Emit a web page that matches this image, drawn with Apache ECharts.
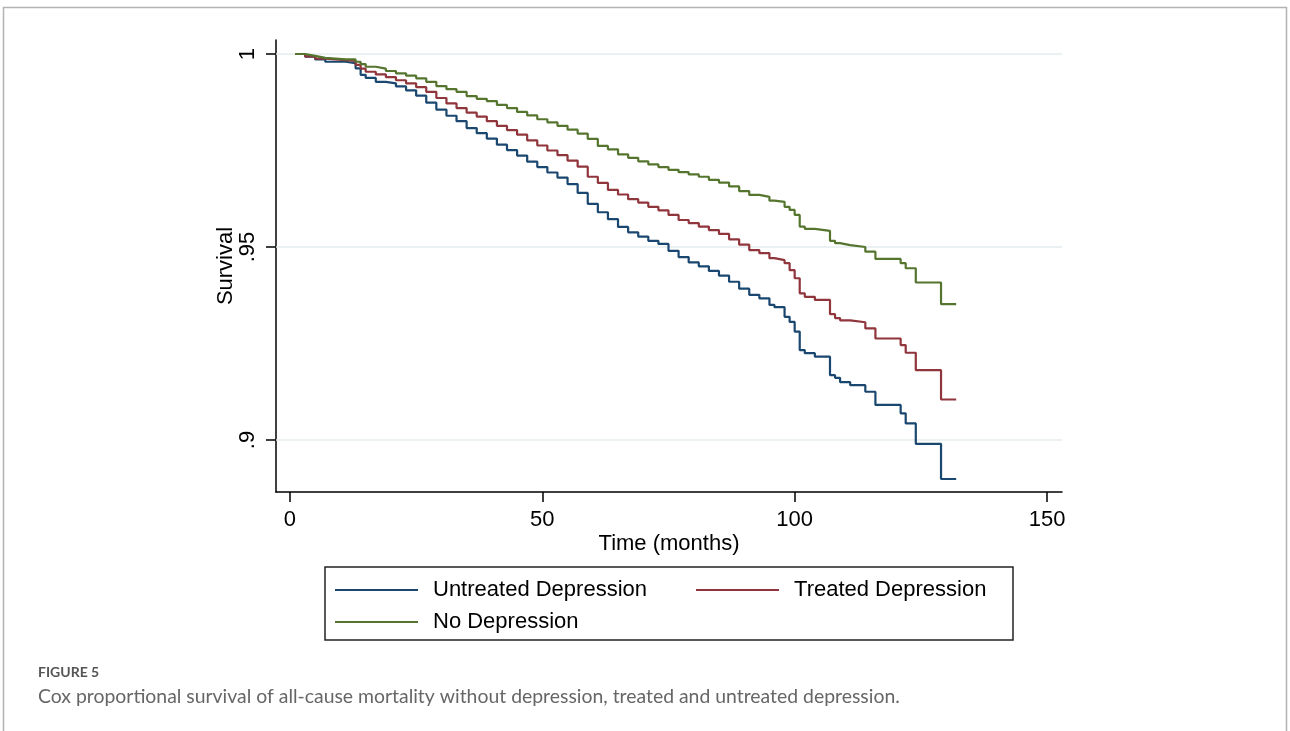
<!DOCTYPE html>
<html>
<head lang="en">
    <meta charset="UTF-8">
    <title>Figure 5</title>
    <style type="text/css">
        body { margin: 0; background: #fff; }
        #mychart { width: 1290px; height: 731px; }
    </style>
</head>
<body>
<div id='mychart'></div>
<script src='https://cdn.jsdelivr.net/npm/echarts/dist/echarts.min.js'></script>
<script>
    // time points (months) at which the curves step
    var months = [1, 3, 5, 7, 11, 13, 14, 15, 17, 19, 21, 23, 25, 27, 29, 31, 33, 35, 37, 39,
        41, 43, 45, 47, 49, 51, 53, 55, 57, 59, 61, 63, 65, 67, 69, 71, 73, 75, 77, 79,
        81, 83, 85, 87, 89, 91, 93, 95, 96, 98, 99, 100, 101, 102, 104, 107, 108, 109, 111,
        114, 116, 121, 122, 124, 129, 132];

    var untreated = [1.0000, 0.9993, 0.9986, 0.9980, 0.9976, 0.9963, 0.9946, 0.9938, 0.9928, 0.9924,
        0.9916, 0.9906, 0.9892, 0.9874, 0.9856, 0.9840, 0.9826, 0.9808, 0.9795, 0.9781,
        0.9765, 0.9751, 0.9737, 0.9721, 0.9707, 0.9693, 0.9680, 0.9663, 0.9640, 0.9612,
        0.9590, 0.9572, 0.9552, 0.9538, 0.9527, 0.9516, 0.9508, 0.9490, 0.9474, 0.9460,
        0.9450, 0.9438, 0.9426, 0.9410, 0.9392, 0.9376, 0.9367, 0.9350, 0.9344, 0.9319,
        0.9306, 0.9281, 0.9233, 0.9225, 0.9216, 0.9168, 0.9161, 0.9150, 0.9142,
        0.9125, 0.9091, 0.9069, 0.9043, 0.8990, 0.8899, 0.8899];

    var treated = [1.0000, 0.9994, 0.9988, 0.9984, 0.9982, 0.9972, 0.9962, 0.9954, 0.9947, 0.9940,
        0.9932, 0.9924, 0.9914, 0.9902, 0.9886, 0.9872, 0.9860, 0.9848, 0.9838, 0.9826,
        0.9814, 0.9803, 0.9791, 0.9776, 0.9763, 0.9750, 0.9738, 0.9724, 0.9708, 0.9682,
        0.9666, 0.9648, 0.9636, 0.9624, 0.9615, 0.9604, 0.9595, 0.9583, 0.9570, 0.9562,
        0.9553, 0.9544, 0.9534, 0.9520, 0.9506, 0.9492, 0.9484, 0.9471, 0.9466, 0.9458,
        0.9440, 0.9419, 0.9380, 0.9371, 0.9363, 0.9326, 0.9316, 0.9310, 0.9305,
        0.9289, 0.9263, 0.9246, 0.9226, 0.9181, 0.9105, 0.9105];

    var noDepression = [1.0000, 0.9995, 0.9990, 0.9986, 0.9986, 0.9980, 0.9974, 0.9967, 0.9962, 0.9956,
        0.9950, 0.9944, 0.9937, 0.9928, 0.9917, 0.9909, 0.9902, 0.9891, 0.9884, 0.9878,
        0.9868, 0.9860, 0.9850, 0.9841, 0.9831, 0.9823, 0.9814, 0.9804, 0.9794, 0.9780,
        0.9762, 0.9753, 0.9740, 0.9731, 0.9722, 0.9714, 0.9707, 0.9700, 0.9694, 0.9688,
        0.9682, 0.9674, 0.9667, 0.9657, 0.9645, 0.9635, 0.9630, 0.9620, 0.9617, 0.9604,
        0.9596, 0.9583, 0.9553, 0.9547, 0.9542, 0.9516, 0.9510, 0.9505, 0.9500,
        0.9488, 0.9469, 0.9458, 0.9445, 0.9408, 0.9352, 0.9352];

    var seriesNames = ['Untreated Depression', 'Treated Depression', 'No Depression'];
    var seriesColors = ['#1a476f', '#90353b', '#55752f'];
    var xTicks = [0, 50, 100, 150];
    var yTicks = [0.9, 0.95, 1];
    var yTickLabels = {'0.9': '.9', '0.95': '.95', '1': '1'};

    function pairs(vals) {
        var res = [];
        for (var i = 0; i < months.length; i++) {
            res.push([months[i], vals[i]]);
        }
        return res;
    }

    var myChart = echarts.init(document.getElementById('mychart'));
    var font = 'Liberation Sans, Arial, Helvetica, sans-serif';

    var allVals = [untreated, treated, noDepression];
    var series = [];
    for (var s = 0; s < allVals.length; s++) {
        series.push({
            name: seriesNames[s],
            type: 'line',
            step: 'end',
            symbol: 'none',
            animation: false,
            data: pairs(allVals[s]),
            lineStyle: {color: seriesColors[s], width: 2.2},
            itemStyle: {color: seriesColors[s]},
            z: 3 + s
        });
    }
    // light grid lines at the y ticks
    series[0].markLine = {
        silent: true,
        symbol: 'none',
        label: {show: false},
        lineStyle: {color: '#e4ecef', width: 1.5, type: 'solid'},
        z: 1,
        data: yTicks.map(function (v) { return {yAxis: v}; })
    };

    var legendText = {fontFamily: font, fontSize: 22, color: '#000', padding: [0, 0, 0, 10]};

    var option = {
        backgroundColor: '#fff',
        animation: false,
        grid: {left: 276, right: 228, top: 40, bottom: 239, containLabel: false},
        xAxis: {
            type: 'value',
            min: -2.77,
            max: 152.97,
            name: 'Time (months)',
            nameLocation: 'middle',
            nameGap: 41,
            nameMoveOverlap: false,
            nameTextStyle: {fontFamily: font, fontSize: 22, color: '#000', verticalAlign: 'top'},
            axisLine: {onZero: false, lineStyle: {color: '#000', width: 1.5}},
            axisTick: {show: true, length: 10, customValues: xTicks, lineStyle: {color: '#000', width: 1.5}},
            axisLabel: {customValues: xTicks, margin: 17, fontFamily: font, fontSize: 22, color: '#000'},
            splitLine: {show: false}
        },
        yAxis: {
            type: 'value',
            min: 0.88653,
            max: 1.00363,
            name: 'Survival',
            nameLocation: 'middle',
            nameGap: 39,
            nameMoveOverlap: false,
            nameRotate: 90,
            nameTextStyle: {fontFamily: font, fontSize: 22, color: '#000'},
            axisLine: {show: true, onZero: false, lineStyle: {color: '#000', width: 1.5}},
            axisTick: {show: true, length: 10, customValues: yTicks, lineStyle: {color: '#000', width: 1.5}},
            axisLabel: {
                customValues: yTicks,
                rotate: 90,
                margin: 17,
                fontFamily: font,
                fontSize: 22,
                color: '#000',
                formatter: function (v) {
                    return yTickLabels[String(+v.toFixed(2))] || '';
                }
            },
            splitLine: {show: false}
        },
        legend: [{
            data: [seriesNames[0], seriesNames[1]],
            left: 335,
            top: 579,
            padding: 0,
            icon: 'rect',
            itemWidth: 83,
            itemHeight: 2,
            itemGap: 49,
            textStyle: legendText
        }, {
            data: [seriesNames[2]],
            left: 335,
            top: 611,
            padding: 0,
            icon: 'rect',
            itemWidth: 83,
            itemHeight: 2,
            textStyle: legendText
        }],
        graphic: [
            {   // outer figure frame
                type: 'rect',
                shape: {x: 3.5, y: 7.5, width: 1283, height: 800},
                style: {fill: 'none', stroke: '#b3b3b3', lineWidth: 1.5},
                silent: true
            },
            {   // legend box
                type: 'rect',
                shape: {x: 325, y: 567, width: 688, height: 73},
                style: {fill: 'none', stroke: '#222', lineWidth: 1.5},
                silent: true
            },
            {
                type: 'text',
                left: 38,
                top: 665,
                style: {text: 'FIGURE 5', fontFamily: 'Lato, Open Sans, sans-serif', fontSize: 14, fontWeight: 'bold', fill: '#555'}
            },
            {
                type: 'text',
                left: 38,
                top: 687,
                style: {
                    text: 'Cox proportional survival of all-cause mortality without depression, treated and untreated depression.',
                    fontFamily: 'Lato, Open Sans, sans-serif', fontSize: 19.4, fill: '#666'
                }
            }
        ],
        series: series
    };

    myChart.setOption(option);
</script>
</body>
</html>
